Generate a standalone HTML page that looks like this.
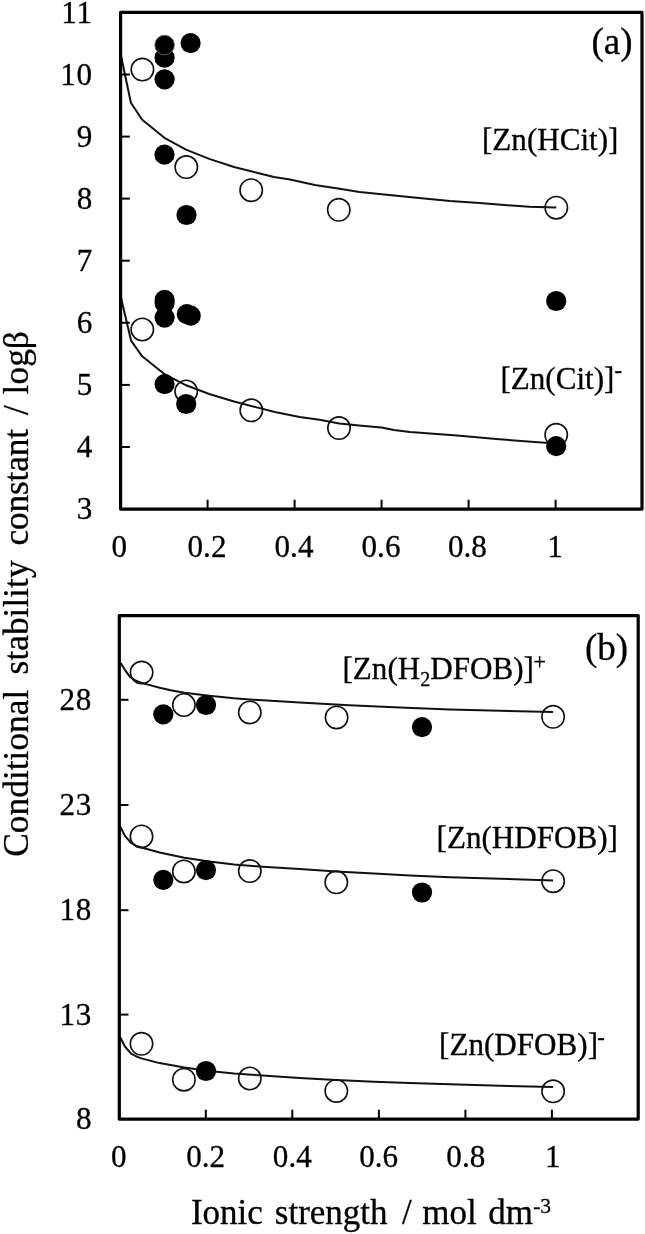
<!DOCTYPE html>
<html lang="en">
<head>
<meta charset="utf-8">
<title>Conditional stability constants vs ionic strength</title>
<style>
html,body{margin:0;padding:0;background:#fff;}
body{width:645px;height:1234px;overflow:hidden;}
svg{display:block;}
text{font-family:"Liberation Serif", "Times New Roman", serif;fill:#000;stroke:#000;stroke-width:0.3px;}
.n{font-size:31.1px;}
.s{font-size:22.5px;}
.sb{font-size:20px;}
.w{letter-spacing:0.7px;}
.s2{font-size:21.5px;}
.p{font-size:37px;}
.a{font-size:35.4px;}
.ax{font-size:35px;}
.o{fill:#fff;stroke:#111;stroke-width:1.6;}
.d{fill:#000;}
.r{stroke:#6a6a6a;stroke-width:0.9;}
.c{fill:none;stroke:#111;stroke-width:2;stroke-linejoin:round;stroke-linecap:butt;}
.f{fill:none;stroke:#000;stroke-width:3.2;stroke-linejoin:round;}
.t{stroke:#000;stroke-width:2;}
</style>
</head>
<body>
<svg width="645" height="1234" viewBox="0 0 645 1234">
<rect x="0" y="0" width="645" height="1234" fill="#fff"/>
<circle class="o" cx="142.4" cy="69.6" r="11.2"/>
<circle class="o" cx="186.3" cy="167.1" r="11.2"/>
<circle class="o" cx="251.2" cy="190.2" r="11.2"/>
<circle class="o" cx="338.8" cy="209.8" r="11.2"/>
<circle class="o" cx="556.3" cy="207.7" r="11.2"/>
<circle class="o" cx="142.3" cy="329.5" r="11.2"/>
<circle class="o" cx="186.2" cy="391.5" r="11.2"/>
<circle class="o" cx="251.3" cy="410.3" r="11.2"/>
<circle class="o" cx="339.0" cy="428.1" r="11.2"/>
<circle class="o" cx="556.2" cy="434.8" r="11.2"/>
<polyline class="c" points="120.8,54.7 130.9,102.8 142.2,119.8 164.4,137.8 186.0,149.6 209.2,158.9 234.0,167.0 258.8,173.2 274.0,177.0 290.0,179.6 314.8,185.0 339.6,188.7 359.5,191.9 389.2,194.9 414.0,197.4 450.0,200.9 479.6,203.1 504.4,205.1 529.2,206.8 556.3,207.6"/>
<polyline class="c" points="120.6,296.0 131.1,340.7 142.2,356.3 164.6,374.2 186.2,385.3 209.2,394.0 234.0,401.5 258.8,407.9 274.8,412.0 299.6,417.0 319.5,419.8 339.3,423.4 361.6,425.7 381.5,427.6 393.9,429.9 410.0,431.9 457.0,435.6 499.2,439.3 534.6,441.9 556.2,443.6"/>
<circle class="d" cx="164.6" cy="57.7" r="10.1"/>
<circle class="d r" cx="164.6" cy="45.0" r="9.8"/>
<circle class="d" cx="164.6" cy="79.3" r="10.1"/>
<circle class="d" cx="190.6" cy="43.1" r="10.1"/>
<circle class="d" cx="164.5" cy="154.7" r="10.1"/>
<circle class="d" cx="186.5" cy="215.0" r="10.1"/>
<circle class="d" cx="164.6" cy="317.6" r="10.1"/>
<circle class="d" cx="164.6" cy="303.0" r="10.1"/>
<circle class="d" cx="164.6" cy="299.9" r="10.1"/>
<circle class="d" cx="186.8" cy="314.2" r="10.1"/>
<circle class="d" cx="190.7" cy="315.7" r="10.1"/>
<circle class="d" cx="556.2" cy="301.0" r="10.1"/>
<circle class="d" cx="164.6" cy="384.1" r="10.1"/>
<circle class="d" cx="186.2" cy="404.0" r="10.1"/>
<circle class="d" cx="556.2" cy="446.2" r="10.1"/>
<circle class="o" cx="141.6" cy="672.6" r="11.2"/>
<circle class="o" cx="183.9" cy="705.0" r="11.2"/>
<circle class="o" cx="249.8" cy="712.4" r="11.2"/>
<circle class="o" cx="336.6" cy="717.4" r="11.2"/>
<circle class="o" cx="553.1" cy="716.8" r="11.2"/>
<circle class="o" cx="141.5" cy="836.4" r="11.2"/>
<circle class="o" cx="183.9" cy="871.4" r="11.2"/>
<circle class="o" cx="249.8" cy="871.1" r="11.2"/>
<circle class="o" cx="336.3" cy="882.3" r="11.2"/>
<circle class="o" cx="553.1" cy="881.2" r="11.2"/>
<circle class="o" cx="141.5" cy="1043.8" r="11.2"/>
<circle class="o" cx="183.9" cy="1079.7" r="11.2"/>
<circle class="o" cx="249.8" cy="1078.5" r="11.2"/>
<circle class="o" cx="336.3" cy="1090.9" r="11.2"/>
<circle class="o" cx="553.1" cy="1091.3" r="11.2"/>
<polyline class="c" points="120.5,662.9 124.9,669.8 129.8,676.6 134.8,680.3 141.0,682.8 147.2,684.4 159.6,687.8 172.0,690.4 184.4,692.8 209.2,695.8 234.0,698.3 258.8,700.1 299.6,702.6 349.2,705.2 400.0,707.6 450.0,709.6 500.0,710.8 553.1,711.9"/>
<polyline class="c" points="120.4,826.7 124.9,835.9 131.1,842.8 137.3,846.3 142.2,847.8 159.6,852.5 184.4,857.7 209.2,861.4 234.0,864.4 258.8,866.4 299.6,868.9 336.3,871.4 374.0,873.6 410.0,875.6 450.0,877.2 500.0,878.8 553.1,880.4"/>
<polyline class="c" points="120.4,1037.5 124.9,1046.5 131.1,1053.7 137.3,1056.9 142.2,1058.6 159.6,1063.1 184.4,1067.6 209.2,1071.0 234.0,1073.5 258.8,1075.3 299.6,1078.0 336.3,1080.0 374.0,1081.7 410.0,1083.0 450.0,1084.3 500.0,1085.8 553.1,1087.1"/>
<circle class="d" cx="163.3" cy="714.3" r="10.1"/>
<circle class="d" cx="206.0" cy="705.0" r="10.1"/>
<circle class="d" cx="422.0" cy="727.1" r="10.1"/>
<circle class="d" cx="163.3" cy="879.8" r="10.1"/>
<circle class="d" cx="206.0" cy="870.1" r="10.1"/>
<circle class="d" cx="422.0" cy="892.5" r="10.1"/>
<circle class="d" cx="206.0" cy="1071.0" r="10.1"/>
<rect class="f" x="120.6" y="12.4" width="521.4" height="496.7"/>
<rect class="f" x="119.3" y="615.6" width="518.9" height="503.5"/>
<line class="t" x1="120.6" y1="447.0" x2="129.79999999999998" y2="447.0"/>
<line class="t" x1="120.6" y1="384.9" x2="129.79999999999998" y2="384.9"/>
<line class="t" x1="120.6" y1="322.8" x2="129.79999999999998" y2="322.8"/>
<line class="t" x1="120.6" y1="260.7" x2="129.79999999999998" y2="260.7"/>
<line class="t" x1="120.6" y1="198.6" x2="129.79999999999998" y2="198.6"/>
<line class="t" x1="120.6" y1="136.6" x2="129.79999999999998" y2="136.6"/>
<line class="t" x1="120.6" y1="74.5" x2="129.79999999999998" y2="74.5"/>
<line class="t" x1="207.6" y1="509.1" x2="207.6" y2="499.70000000000005"/>
<line class="t" x1="294.6" y1="509.1" x2="294.6" y2="499.70000000000005"/>
<line class="t" x1="381.6" y1="509.1" x2="381.6" y2="499.70000000000005"/>
<line class="t" x1="468.6" y1="509.1" x2="468.6" y2="499.70000000000005"/>
<line class="t" x1="555.6" y1="509.1" x2="555.6" y2="499.70000000000005"/>
<line class="t" x1="119.3" y1="1014.6" x2="128.5" y2="1014.6"/>
<line class="t" x1="119.3" y1="910.2" x2="128.5" y2="910.2"/>
<line class="t" x1="119.3" y1="805.0" x2="128.5" y2="805.0"/>
<line class="t" x1="119.3" y1="699.8" x2="128.5" y2="699.8"/>
<line class="t" x1="205.8" y1="1119.1" x2="205.8" y2="1109.6999999999998"/>
<line class="t" x1="292.3" y1="1119.1" x2="292.3" y2="1109.6999999999998"/>
<line class="t" x1="378.9" y1="1119.1" x2="378.9" y2="1109.6999999999998"/>
<line class="t" x1="465.4" y1="1119.1" x2="465.4" y2="1109.6999999999998"/>
<line class="t" x1="551.9" y1="1119.1" x2="551.9" y2="1109.6999999999998"/>
<text class="n" text-anchor="end" x="92.3" y="519.3">3</text>
<text class="n" text-anchor="end" x="92.3" y="457.2">4</text>
<text class="n" text-anchor="end" x="92.3" y="395.1">5</text>
<text class="n" text-anchor="end" x="92.3" y="333.0">6</text>
<text class="n" text-anchor="end" x="92.3" y="270.9">7</text>
<text class="n" text-anchor="end" x="92.3" y="208.8">8</text>
<text class="n" text-anchor="end" x="92.3" y="146.8">9</text>
<text class="n w" text-anchor="end" x="92.7" y="84.7">10</text>
<text class="n w" text-anchor="end" x="92.7" y="22.6">11</text>
<text class="n" text-anchor="end" x="91.6" y="1129.1">8</text>
<text class="n w" text-anchor="end" x="92.1" y="1024.6">13</text>
<text class="n w" text-anchor="end" x="92.1" y="920.2">18</text>
<text class="n w" text-anchor="end" x="92.1" y="815.0">23</text>
<text class="n w" text-anchor="end" x="92.1" y="709.8">28</text>
<text class="n" text-anchor="middle" x="119.3" y="557">0</text>
<text class="n" text-anchor="middle" x="118.7" y="1167.4">0</text>
<text class="n" text-anchor="middle" x="207.0" y="557">0.2</text>
<text class="n" text-anchor="middle" x="205.6" y="1167.4">0.2</text>
<text class="n" text-anchor="middle" x="294.0" y="557">0.4</text>
<text class="n" text-anchor="middle" x="292.3" y="1167.4">0.4</text>
<text class="n" text-anchor="middle" x="381.0" y="557">0.6</text>
<text class="n" text-anchor="middle" x="378.7" y="1167.4">0.6</text>
<text class="n" text-anchor="middle" x="467.4" y="557">0.8</text>
<text class="n" text-anchor="middle" x="465.8" y="1167.4">0.8</text>
<text class="n" text-anchor="middle" x="555.0" y="557">1</text>
<text class="n" text-anchor="middle" x="552.7" y="1167.4">1</text>
<text class="n" x="482.0" y="150.4">[Zn(HCit)]</text>
<text class="n" x="500.4" y="389.2">[Zn(Cit)]<tspan class="s" dy="-10.8">-</tspan></text>
<text class="n" x="342.5" y="679.2">[Zn(H<tspan class="sb" dy="6.5">2</tspan><tspan dy="-6.5">DFOB)]</tspan><tspan class="s" dx="-0.6" dy="-10.3">+</tspan></text>
<text class="n" x="436.6" y="847.8">[Zn(HDFOB)]</text>
<text class="n" x="439.1" y="1055">[Zn(DFOB)]<tspan class="s" dx="-0.8" dy="-9.8">-</tspan></text>
<text class="p" x="591.4" y="54.3">(a)</text>
<text class="p" x="585" y="659.9">(b)</text>
<text class="ax" y="1223.8"><tspan x="190.9">Ionic</tspan><tspan x="274.8">strength</tspan><tspan x="401.9">/</tspan><tspan x="422.2">mol</tspan><tspan x="488.2">dm</tspan><tspan class="s2" dx="0.2" dy="-10.6">-3</tspan></text>
<g transform="translate(27.7,0) rotate(-90)"><text class="a" y="0"><tspan x="-856.8">Conditional</tspan><tspan x="-674.4">stability</tspan><tspan x="-545.5" style="letter-spacing:-0.2px">constant</tspan><tspan x="-415">/</tspan><tspan x="-394.4">logβ</tspan></text></g>
</svg>
</body>
</html>
